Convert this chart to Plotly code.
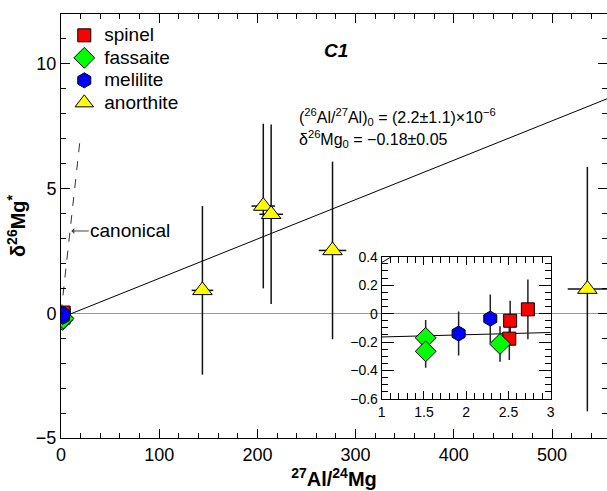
import plotly.graph_objects as go

# ---- data ----
spinel_x = [2.52, 2.51, 2.73]
spinel_y = [-0.05, -0.176, 0.03]
spinel_err = [0.14, 0.15, 0.21]

fassaite_x = [1.52, 1.52, 2.40]
fassaite_y = [-0.17, -0.265, -0.213]
fassaite_err = [0.125, 0.115, 0.125]

melilite_x = [1.91, 2.285]
melilite_y = [-0.14, -0.035]
melilite_err = [0.155, 0.17]

anorthite_x = [144, 206, 214, 276.5, 536]
anorthite_y = [0.92, 4.3, 3.97, 2.52, 0.97]
anorthite_yerr = [3.38, 3.3, 3.6, 3.56, 4.9]
anorthite_xerr = [11, 12, 12, 14, 20]

al26_al27_0 = 2.2e-6
dmg0 = -0.18
canonical_ratio = 5.0e-5
ratio_factor = 1000 / 0.13932

fit_x_main = [0, 560]
fit_x_inset = [1, 3]
canon_x_main = [0, 19.5]
canon_x_inset = [0.9, 1.3]

x_ticks_main = [0, 100, 200, 300, 400, 500]
y_ticks_main = [-5, 0, 5, 10]


def fit(xs):
    return [dmg0 + al26_al27_0 * ratio_factor * x for x in xs]


def canon(xs):
    return [canonical_ratio * ratio_factor * x for x in xs]


def lg(name):
    return "<span style='font-size:19px'>" + name + "</span>"


FONT = "Liberation Sans, Arial, sans-serif"
fig = go.Figure()

# lines main
fig.add_trace(go.Scatter(x=fit_x_main, y=fit(fit_x_main), mode="lines",
                         line=dict(color="black", width=1), showlegend=False, hoverinfo="skip"))
fig.add_trace(go.Scatter(x=canon_x_main, y=canon(canon_x_main), mode="lines",
                         line=dict(color="#333", width=1, dash="dash"), showlegend=False, hoverinfo="skip"))
# lines inset
fig.add_trace(go.Scatter(x=fit_x_inset, y=fit(fit_x_inset), mode="lines", xaxis="x2", yaxis="y2",
                         line=dict(color="black", width=1), showlegend=False, hoverinfo="skip"))
fig.add_trace(go.Scatter(x=canon_x_inset, y=canon(canon_x_inset), mode="lines", xaxis="x2", yaxis="y2",
                         line=dict(color="black", width=1), showlegend=False, hoverinfo="skip"))

minerals = [
    ("spinel", spinel_x, spinel_y, spinel_err, "square", "#ff0000", 13),
    ("fassaite", fassaite_x, fassaite_y, fassaite_err, "diamond", "#00ff00", 16),
    ("melilite", melilite_x, melilite_y, melilite_err, "hexagon", "#0000ff", 15),
]

for name, xs, ys, es, sym, col, sz in minerals:
    for ax, show in (("", True), ("2", False)):
        fig.add_trace(go.Scatter(
            x=xs, y=ys, mode="markers", name=lg(name), showlegend=show,
            xaxis="x" + ax, yaxis="y" + ax,
            marker=dict(symbol=sym, color=col, size=sz, line=dict(color="black", width=1)),
            error_y=dict(type="data", array=es, color="#222", thickness=1.5, width=0),
        ))
    if name == "melilite":
        fig.add_trace(go.Scatter(
            x=anorthite_x, y=anorthite_y, mode="markers", name=lg("anorthite"),
            marker=dict(symbol="triangle-up", color="#ffff00", size=17, line=dict(color="black", width=1)),
            error_y=dict(type="data", array=anorthite_yerr, color="#111", thickness=1.5, width=0),
            error_x=dict(type="data", array=anorthite_xerr, color="#111", thickness=1.5, width=0),
        ))

axis_common = dict(showline=True, linecolor="black", linewidth=1, mirror="ticks",
                   ticks="inside", tickcolor="black", showgrid=False, automargin=False)

fig.update_layout(
    width=607, height=491,
    margin=dict(l=61, r=0, t=14, b=53),
    paper_bgcolor="white", plot_bgcolor="white",
    font=dict(family=FONT, color="black"),
    xaxis=dict(**axis_common, range=[0, 556], tickvals=x_ticks_main, ticklen=9, tickwidth=1,
               minor=dict(dtick=20, tick0=0, ticklen=5, ticks="inside", tickcolor="black"),
               zeroline=False, tickfont=dict(size=18),
               title=dict(text="<b><sup>27</sup>Al/<sup>24</sup>Mg</b>", font=dict(size=20), standoff=6)),
    yaxis=dict(**axis_common, range=[-5, 12], tickvals=y_ticks_main, ticklen=9, tickwidth=1,
               minor=dict(dtick=1, tick0=0, ticklen=5, ticks="inside", tickcolor="black"),
               zeroline=True, zerolinecolor="#999", zerolinewidth=1, tickfont=dict(size=18),
               title=dict(text="<b>δ<sup>26</sup>Mg<sup>*</sup></b>", font=dict(size=20), standoff=4)),
    xaxis2=dict(**axis_common, domain=[0.5874, 0.8969], anchor="y2", range=[1, 3], dtick=0.5, tick0=1,
                ticklen=8, minor=dict(dtick=0.1, ticklen=6, ticks="inside", tickcolor="black"),
                zeroline=False, tickfont=dict(size=14)),
    yaxis2=dict(**axis_common, domain=[0.092, 0.4276], anchor="x2", range=[-0.6, 0.4], dtick=0.2, tick0=0,
                ticklen=12, minor=dict(dtick=0.05, ticklen=6, ticks="inside", tickcolor="black"),
                zeroline=True, zerolinecolor="#999", zerolinewidth=1, tickfont=dict(size=14)),
    legend=dict(x=0.006, y=0.988, xanchor="left", yanchor="top", bgcolor="rgba(0,0,0,0)",
                font=dict(size=15), tracegroupgap=0, itemsizing="trace"),
    showlegend=True,
)

fig.add_annotation(x=0.504, y=0.944, xref="paper", yref="paper", text="<b><i>C1</i></b>",
                   showarrow=False, font=dict(size=19))
fig.add_annotation(x=297, y=104, xref="paper", yref="paper", showarrow=False,
                   text="(<sup>26</sup>Al/<sup>27</sup>Al)<sub>0</sub> = (2.2±1.1)×10<sup>−6</sup>",
                   font=dict(size=16), xanchor="left")
fig.add_annotation(x=297, y=126, xref="paper", yref="paper", showarrow=False,
                   text="δ<sup>26</sup>Mg<sub>0</sub> = −0.18±0.05",
                   font=dict(size=16), xanchor="left")
fig.add_annotation(x=10.5, y=3.3, xref="x", yref="y", text="canonical", showarrow=True,
                   ax=59, ay=0, arrowhead=1, arrowsize=1, arrowwidth=1,
                   arrowcolor="#444", font=dict(size=19))

# convert pixel positions for formula text into paper coords
for ann in fig.layout.annotations[1:3]:
    ann.x = (ann.x - 61) / 546
    ann.y = (438 - ann.y) / 424

fig.write_html("out.html", post_script="document.body.style.margin='0';",
               config={"displayModeBar": False})
